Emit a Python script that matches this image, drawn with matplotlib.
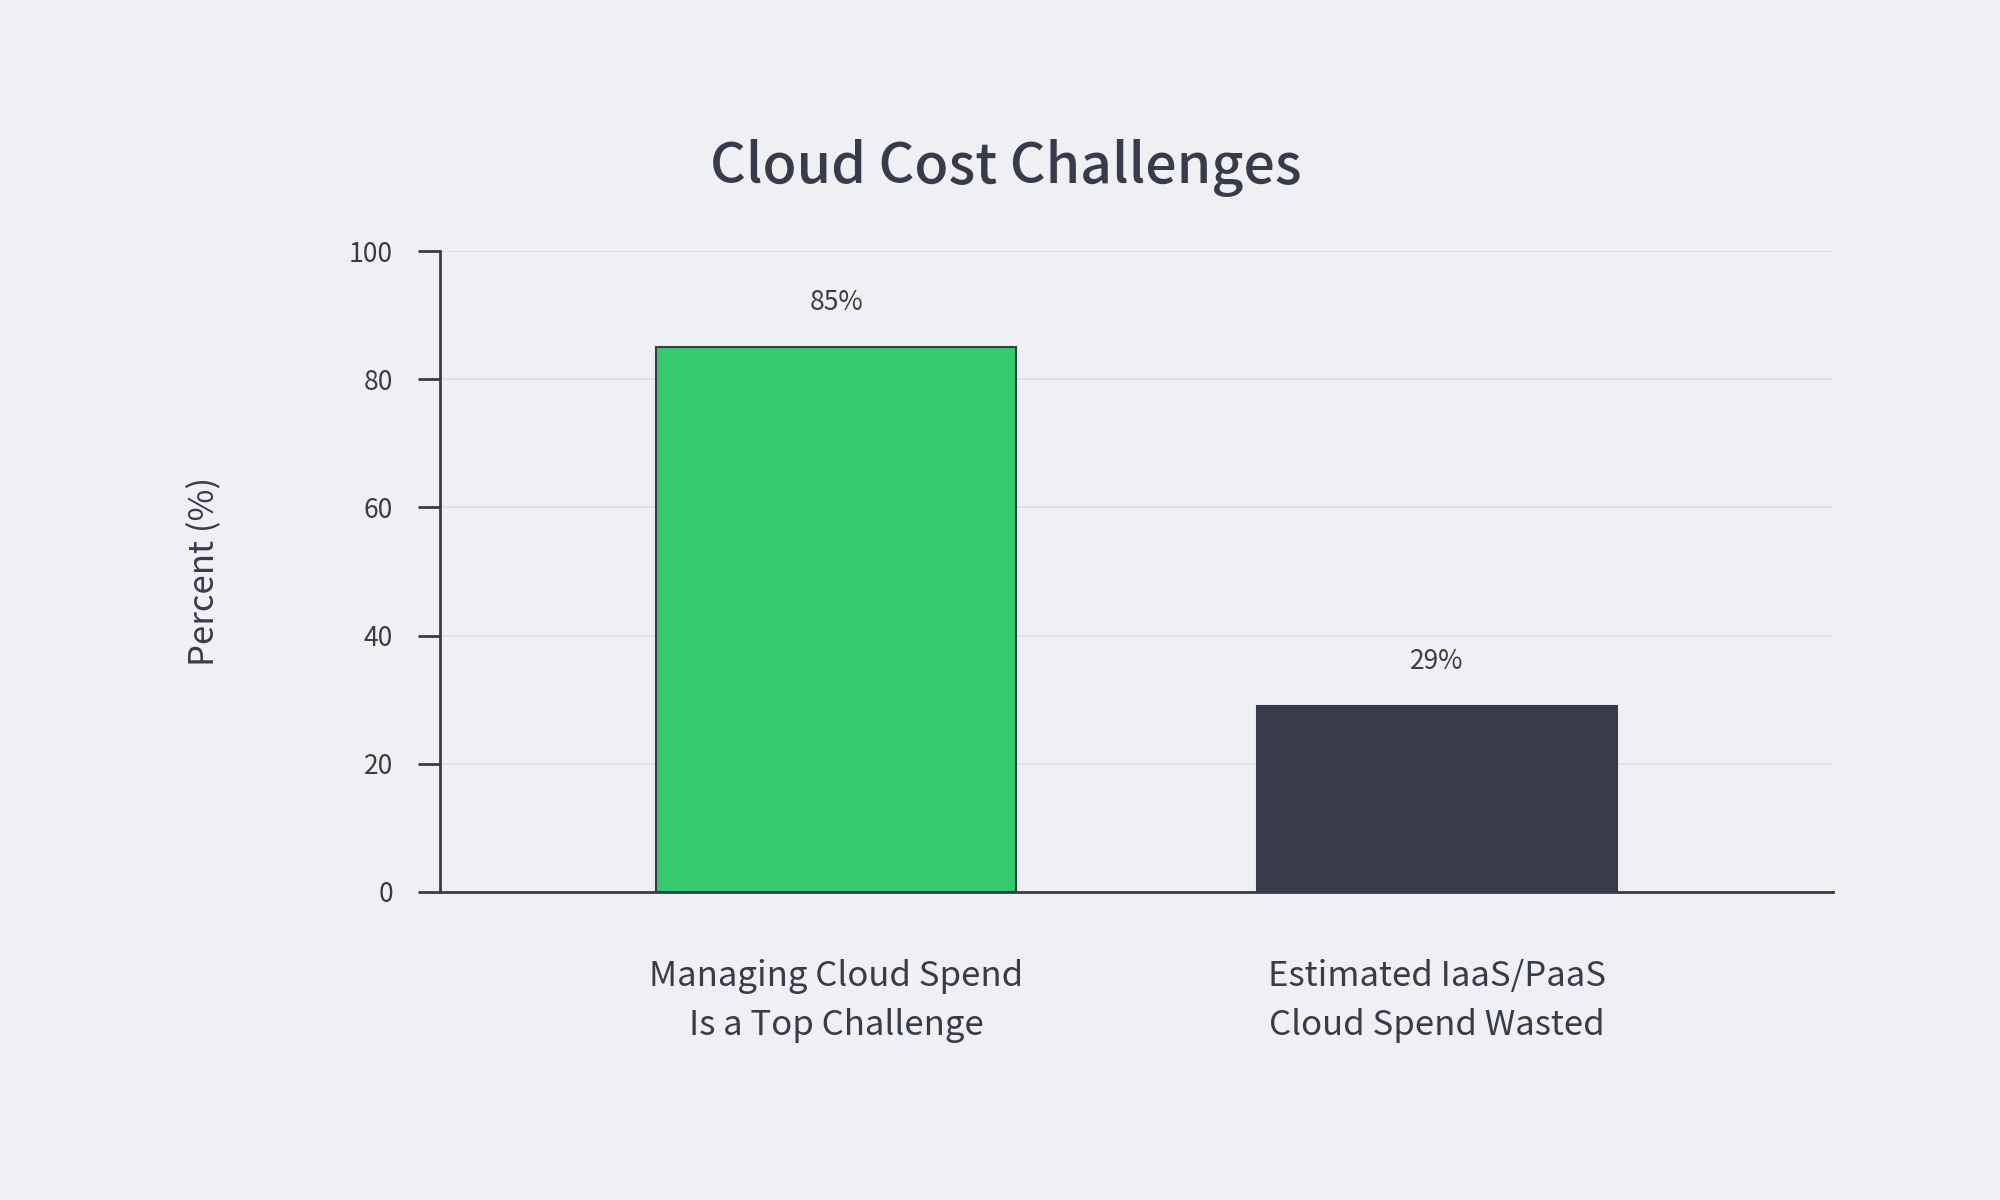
import matplotlib
matplotlib.use('Agg')
import matplotlib.pyplot as plt

# chart data
categories = ['Managing Cloud Spend\nIs a Top Challenge', 'Estimated IaaS/PaaS\nCloud Spend Wasted']
values = [85, 29]
bar_colors = ['#37cb70', '#3a3b4a']
yticks = [0, 20, 40, 60, 80, 100]

bg = '#eff0f4'
ink = '#3a3b4a'

plt.rcParams['font.family'] = ['Noto Sans CJK JP', 'DejaVu Sans']

fig = plt.figure(figsize=(20, 12), dpi=100, facecolor=bg)
ax = fig.add_axes([0.22, 0.2567, 0.6965, 0.5341], facecolor=bg)

x = range(len(values))
ax.bar(x, values, width=0.6, color=bar_colors, edgecolor=ink, linewidth=1.5, zorder=3)

for xi, v in zip(x, values):
    ax.text(xi, v + 7, f'{v}%', ha='center', va='center', fontsize=19, color=ink, zorder=4)

ax.set_xlim(-0.66, 1.66)
ax.set_ylim(0, 100)
ax.set_yticks(yticks)
ax.set_xticks(list(x))
ax.set_xticklabels(categories, fontsize=25, color=ink, linespacing=1.55)
ax.tick_params(axis='x', length=0, pad=48)
ax.tick_params(axis='y', length=16, width=2, color=ink, labelsize=19, labelcolor=ink, pad=18)

ax.grid(axis='y', color='#dfe1e7', linewidth=1.5, zorder=0)
ax.set_axisbelow(True)

for side in ['top', 'right']:
    ax.spines[side].set_visible(False)
for side in ['left', 'bottom']:
    ax.spines[side].set_color(ink)
    ax.spines[side].set_linewidth(2)

ax.set_ylabel('Percent (%)', fontsize=25, color=ink, labelpad=91)
fig.suptitle('Cloud Cost Challenges', x=0.503, y=0.884, fontsize=40, fontweight='medium', color=ink)

fig.savefig('out.png', dpi=100, facecolor=bg)
